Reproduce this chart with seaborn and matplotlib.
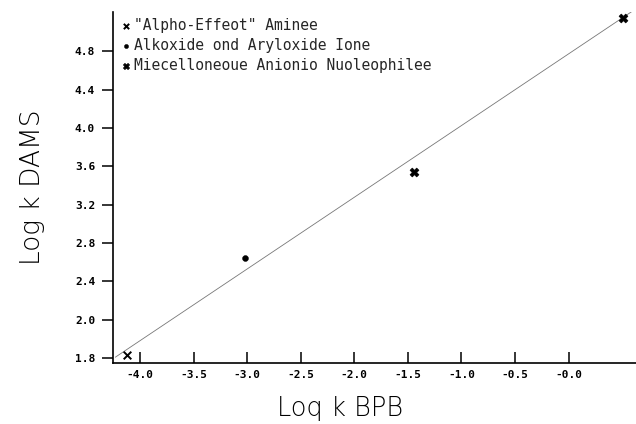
import matplotlib
matplotlib.use("Agg")
import matplotlib.pyplot as plt
import seaborn as sns
import pandas as pd

# ---- data ----
groups = ['"Alpho-Effeot" Aminee',
          'Alkoxide ond Aryloxide Ione',
          'Miecelloneoue Anionio Nuoleophilee']
alpha_x = [-4.12]
alpha_y = [1.63]
alkox_x = [-3.02]
alkox_y = [2.64]
misc_x = [-1.44, 0.51]
misc_y = [3.54, 5.15]
fit_x = [-4.23, 0.64]
fit_y = [1.61, 5.25]

x_ticks = [-4.0, -3.5, -3.0, -2.5, -2.0, -1.5, -1.0, -0.5, 0.0]
x_tick_labels = ["-4.0", "-3.5", "-3.0", "-2.5", "-2.0", "-1.5", "-1.0", "-0.5", "-0.0"]
y_ticks = [1.6, 2.0, 2.4, 2.8, 3.2, 3.6, 4.0, 4.4, 4.8]
y_tick_labels = ["1.8", "2.0", "2.4", "2.8", "3.2", "3.6", "4.0", "4.4", "4.8"]

sns.set_theme(style="ticks")
plt.rcParams['font.family'] = ['DejaVu Sans']

fig = plt.figure(figsize=(6.36, 4.24), dpi=100)
ax = fig.add_axes([0.178, 0.144, 0.822, 0.828])

sns.lineplot(x=fit_x, y=fit_y, ax=ax, color="#777777", lw=0.6, zorder=1)

df = pd.concat([
    pd.DataFrame({"x": alpha_x, "y": alpha_y, "g": groups[0]}),
    pd.DataFrame({"x": alkox_x, "y": alkox_y, "g": groups[1]}),
    pd.DataFrame({"x": misc_x, "y": misc_y, "g": groups[2]}),
])
markers = {groups[0]: "x", groups[1]: "o", groups[2]: "X"}
sizes = {groups[0]: 30, groups[1]: 18, groups[2]: 40}
for g in groups:
    sub = df[df.g == g]
    kw = dict(color="black", s=sizes[g], marker=markers[g], label=g, ax=ax, zorder=3)
    if markers[g] == "x":
        kw["linewidth"] = 1.4
    else:
        kw["edgecolor"] = "black"
    sns.scatterplot(data=sub, x="x", y="y", **kw)

ax.set_xlim(-4.25, 0.63)
ax.set_ylim(1.55, 5.21)
ax.set_xticks(x_ticks)
ax.set_xticklabels(x_tick_labels)
ax.set_yticks(y_ticks)
ax.set_yticklabels(y_tick_labels)

sns.despine(ax=ax)
for s in ("left", "bottom"):
    ax.spines[s].set_linewidth(1.2)
    ax.spines[s].set_color("black")

ax.tick_params(axis="x", direction="in", length=8, width=1.1, pad=5,
               labelsize=8, colors="black")
ax.tick_params(axis="y", direction="out", length=8, width=1.1, pad=5,
               labelsize=8, colors="black")
for lab in ax.get_xticklabels() + ax.get_yticklabels():
    lab.set_family("DejaVu Sans Mono")
    lab.set_fontweight("bold")

ax.set_xlabel("Loq k BPB", fontsize=18.5, fontweight="light", color="black")
ax.xaxis.set_label_coords(0.434, -0.095)
ax.set_ylabel("Log k DAMS", fontsize=19, fontweight="light", color="black")
ax.yaxis.set_label_coords(-0.131, 0.5)

leg = ax.legend(loc="upper left", bbox_to_anchor=(0.004, 1.0), frameon=False,
                handlelength=0.6, handletextpad=0.3, borderaxespad=0.0,
                labelspacing=0.35,
                prop={"family": "DejaVu Sans Mono", "size": 10.5, "weight": "normal"},
                markerscale=0.7)

fig.savefig("out.png", dpi=100)
